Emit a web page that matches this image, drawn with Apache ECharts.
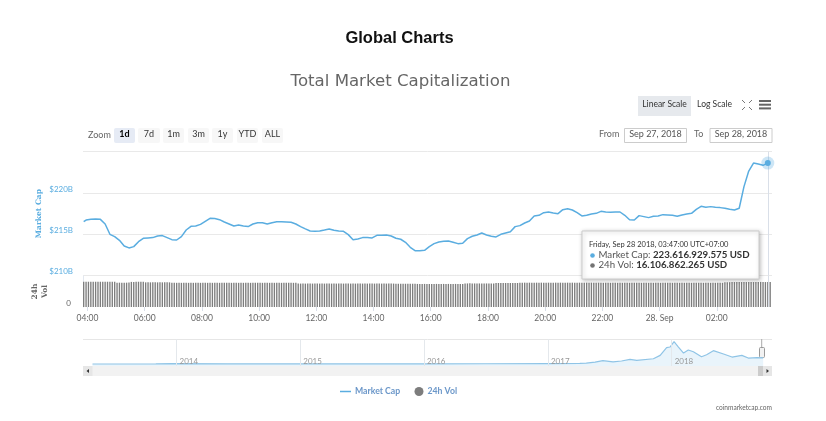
<!DOCTYPE html>
<html><head><meta charset="utf-8">
<script src="https://cdn.jsdelivr.net/npm/echarts@6/dist/echarts.min.js"></script>
<style>html,body{margin:0;padding:0;background:#fff}#c{width:826px;height:421px}</style>
</head><body><div id="c"></div>
<script>
// Market cap in $B: first reading 03:52, then every 10 minutes from 03:57 to Sep 28 03:47
const marketCap = [216.53,
216.73,216.81,216.85,216.81,216.25,215.0,214.72,214.27,213.59,213.35,213.51,214.11,
214.52,214.56,214.6,214.8,214.84,214.6,214.35,214.31,214.72,215.52,215.97,216.0,
216.2,216.57,216.94,216.9,216.77,216.49,216.25,216.0,216.13,216.0,215.93,216.25,
216.41,216.41,216.25,216.41,216.53,216.53,216.49,216.45,216.25,215.93,215.65,215.4,
215.36,215.4,215.52,215.65,215.48,215.4,215.36,214.96,214.35,214.44,214.6,214.6,
214.56,214.88,214.88,214.92,214.8,214.52,214.4,214.03,213.43,213.02,213.02,213.06,
213.51,213.87,214.07,214.15,214.19,214.03,213.87,213.91,214.48,214.76,214.92,215.16,
214.92,214.76,214.68,215.0,215.16,215.32,215.93,216.05,216.37,216.61,217.22,217.3,
217.62,217.7,217.58,217.5,217.98,218.1,217.94,217.62,217.22,217.3,217.46,217.54,
217.78,217.7,217.66,217.7,217.7,217.3,216.77,216.73,217.26,217.14,217.02,217.18,
217.22,217.38,217.34,217.3,217.18,217.34,217.46,217.54,218.02,218.39,218.27,218.35,
218.27,218.23,218.15,218.02,217.94,218.15,220.77,222.66,223.63,223.51,223.35,223.616929575];
// 24h volume in $B, one bar every 5 minutes from 03:52
const volume = [
16.3,16.3,16.3,16.3,16.3,16.3,16.3,16.3,16.3,16.3,16.3,
16.3,16.3,16.3,15.7,15.7,15.7,15.7,15.7,15.8,16.2,16.2,16.3,
16.3,16.3,16.3,15.9,15.9,15.9,15.9,15.9,15.9,15.9,15.9,15.9,
15.9,15.9,15.6,15.6,15.6,15.6,15.6,15.6,15.6,15.6,15.6,15.6,
15.6,15.6,15.6,15.6,15.6,15.6,15.6,15.6,15.6,15.6,15.6,15.6,
15.6,15.6,15.6,15.6,15.6,15.6,15.6,15.6,15.6,15.6,15.6,15.6,
15.6,15.6,15.6,15.6,15.6,15.6,15.6,15.6,15.6,15.6,15.6,15.6,
15.6,15.6,15.6,15.6,15.6,15.6,15.6,15.1,15.1,15.1,15.1,15.1,
15.1,15.1,15.1,15.1,15.1,15.1,15.1,15.1,15.1,15.1,15.1,15.1,
15.1,15.1,15.1,15.1,15.1,15.1,15.1,15.1,15.1,15.1,15.1,15.1,
15.1,15.1,15.1,15.1,15.1,15.1,15.1,15.1,15.1,15.1,15.1,15.1,
15.0,15.0,15.0,15.0,15.0,15.0,15.0,15.0,15.0,14.9,14.9,14.9,
14.9,14.9,14.9,14.9,14.9,14.9,14.9,14.9,14.9,14.9,14.9,14.9,
14.9,14.9,14.9,14.9,14.9,15.2,15.2,15.3,15.2,15.2,15.2,15.2,
15.2,15.2,15.2,15.2,15.2,15.2,15.5,15.5,15.5,15.5,15.5,15.5,
15.5,15.5,15.5,15.5,15.7,15.7,15.7,15.7,15.7,15.7,15.7,15.7,
15.7,15.7,15.7,15.7,15.7,15.7,15.7,15.7,15.7,15.7,15.7,15.7,
15.7,15.7,15.7,15.7,15.7,15.7,15.7,15.7,15.7,15.7,15.7,15.7,
15.7,15.7,15.7,15.6,15.6,15.6,15.6,15.6,15.6,15.6,15.6,15.6,
15.6,15.6,15.6,15.6,15.6,15.6,15.6,15.6,15.6,15.6,15.6,15.6,
15.6,15.6,15.6,15.6,15.6,15.6,15.6,15.6,15.6,15.6,15.6,15.6,
15.6,15.6,15.6,15.6,15.6,15.6,15.6,15.6,15.6,15.6,15.6,15.6,
15.6,15.6,15.6,15.6,15.6,15.6,15.9,15.9,16.0,16.1,16.1,16.1,
16.1,16.1,16.1,16.1,16.2,16.2,16.1,16.1,16.1,16.2,16.1,16.1,
16.106862265,16.1];
// Navigator overview: date, market cap in $B
const overviewDates = ['2013-04-28','2013-11-01','2013-12-20','2014-06-01','2015-01-15','2016-01-01','2016-07-01','2017-01-01','2017-04-05','2017-04-24','2017-05-20','2017-06-12','2017-07-12','2017-08-06','2017-08-31','2017-09-20','2017-11-08','2017-11-28','2017-12-17','2017-12-27','2018-01-08','2018-01-21','2018-02-05','2018-02-19','2018-03-06','2018-03-30','2018-04-14','2018-05-04','2018-06-03','2018-06-28','2018-07-27','2018-08-15','2018-09-10','2018-09-28'];
const overviewValues = [1.5,5,14,8,5,7,10,17,25,30,72,120,78,110,170,132,190,312,590,612,804,612,396,504,440,264,336,480,360,252,312,216,230,223.6];
const rangeButtons = ['1d','7d','1m','3m','1y','YTD','ALL'];
const yTicks = [210,215,220,225];
const overviewYears = [2014,2015,2016,2017,2018];
const lastLabel = 'Friday, Sep 28 2018, 03:47:00 UTC+07:00';
const capLabel = '223.616.929.575 USD';
const volLabel = '16.106.862.265 USD';

const FONT = 'Lato';
const BLUE = '#5aade0', GRID = '#e9e9e9';
const MIN = 60000;
const start = new Date(2018,8,27,3,52).getTime();
const end = new Date(2018,8,28,3,47).getTime();
const capData = marketCap.map((v,i)=>[i===0?start:start+5*MIN+(i-1)*10*MIN,v]);
const volData = volume.map((v,i)=>[start+i*5*MIN,v]);
const navData = overviewDates.map((d,i)=>{const p=d.split('-');return [new Date(+p[0],p[1]-1,+p[2]).getTime(),overviewValues[i]];});
const xMin = new Date(2018,8,27,3,50,34).getTime(), xMax = new Date(2018,8,28,3,55,48).getTime();
const hourTicks = [];
for(let h=4;h<=26;h+=2) hourTicks.push(new Date(2018,8,27,h).getTime());
const yearTicks = overviewYears.map(y=>new Date(y,0,1).getTime());
const hourFmt = v=>{const d=new Date(v);if(d.getHours()===0)return '28. Sep';return String(d.getHours()).padStart(2,'0')+':00';};

function R(x,y,w,h,fill,extra){return Object.assign({type:'rect',silent:true,shape:{x,y,width:w,height:h},style:{fill}},extra||{});}
function T(x,y,text,o){return {type:'text',silent:true,x,y,z:o&&o.z||5,style:{text,fontFamily:o&&o.ff||FONT,fontSize:o&&o.s||9,fontWeight:o&&o.w||'normal',fill:o&&o.c||'#555',align:o&&o.a||'left',verticalAlign:'middle'}};}
function L(x1,y1,x2,y2,c,w){return {type:'line',silent:true,shape:{x1,y1,x2,y2},style:{stroke:c,lineWidth:w||1}};}
function P(pts,c){return {type:'polygon',silent:true,shape:{points:pts},style:{fill:c}};}

const btnBoxes=[[114,21],[138,22],[163,21],[188,21],[212,21],[237,21],[262,21]];
const g=[];
g.push(T(88,135,'Zoom',{c:'#666',s:9}));
rangeButtons.forEach((b,i)=>{
  const [x,w]=btnBoxes[i];
  g.push(R(x,128,w,15,i===0?'#e6ebf5':'#f7f7f7',{shape:{x,y:128,width:w,height:15,r:2}}));
  g.push(T(x+w/2,134.5,b,{a:'center',c:i===0?'#000':'#333',w:i===0?'bold':'normal',s:9}));
});
g.push(R(638,96,53,20,'#e6e9ed'));
g.push(T(664.5,104,'Linear Scale',{a:'center',c:'#333',s:8.5}));
g.push(T(714.5,104,'Log Scale',{a:'center',c:'#333',s:8.5}));
[[742,100,1,1],[752,100,-1,1],[742,110,1,-1],[752,110,-1,-1]].forEach(a=>{
  g.push(L(a[0],a[1],a[0]+a[2]*3,a[1]+a[3]*3,'#777',1));
});
g.push(R(759,100,12,2,'#666'),R(759,103.7,12,2,'#666'),R(759,107.4,12,2,'#666'));
g.push(T(599,134.5,'From',{c:'#666',s:9}));
g.push(R(624.5,128.5,62,14,'#fff',{style:{fill:'#fff',stroke:'#ccc',lineWidth:1}}));
g.push(T(655.5,134.5,'Sep 27, 2018',{a:'center',c:'#555',s:9}));
g.push(T(694,134.5,'To',{c:'#666',s:9}));
g.push(R(710,128.5,62,14,'#fff',{style:{fill:'#fff',stroke:'#ccc',lineWidth:1}}));
g.push(T(741,134.5,'Sep 28, 2018',{a:'center',c:'#555',s:9}));
// scrollbar and navigator handle
g.push(L(83,339.5,772,339.5,'#e6e6e6',1));
g.push(R(83,366,689,10,'#f2f2f2'));
g.push(R(83,366,9.5,10,'#e6e6e6'));
g.push(P([[89,369],[89,373],[86.5,371]],'#333'));
g.push(R(758,366,5,10,'#cccccc'));
g.push(R(763,366,9,10,'#e6e6e6'));
g.push(P([[766.5,369],[766.5,373],[769,371]],'#333'));
g.push(L(761.7,339,761.7,366,'#aaa',1));
g.push(R(759.5,347.5,5,10,'#f2f2f2',{style:{fill:'#f2f2f2',stroke:'#999',lineWidth:1},shape:{x:759.5,y:347.5,width:5,height:10,r:1}}));
g.push(T(772,408,'coinmarketcap.com',{a:'right',c:'#666',s:6.6}));
// tooltip
g.push({type:'rect',silent:true,z:10,shape:{x:582,y:231,width:177,height:48},style:{fill:'#fff',stroke:'#ccc',lineWidth:1,shadowBlur:4,shadowColor:'rgba(0,0,0,0.25)',shadowOffsetX:1,shadowOffsetY:1}});
g.push(T(589,244.5,lastLabel,{c:'#333',s:7.5,z:11}));
g.push({type:'circle',silent:true,z:11,shape:{cx:592.5,cy:255.5,r:2.3},style:{fill:BLUE}});
g.push({type:'text',silent:true,z:11,x:598.5,y:255,style:{rich:{a:{fontFamily:FONT,fontSize:9.7,fill:'#555'},b:{fontFamily:FONT,fontSize:9.7,fontWeight:'bold',fill:'#333'}},text:'{a|Market Cap: }{b|'+capLabel+'}',verticalAlign:'middle'}});
g.push({type:'circle',silent:true,z:11,shape:{cx:592.5,cy:265.5,r:2.3},style:{fill:'#737373'}});
g.push({type:'text',silent:true,z:11,x:598.5,y:265,style:{rich:{a:{fontFamily:FONT,fontSize:9.7,fill:'#555'},b:{fontFamily:FONT,fontSize:9.7,fontWeight:'bold',fill:'#333'}},text:'{a|24h Vol: }{b|'+volLabel+'}',verticalAlign:'middle'}});

const option={
  animation:false,
  backgroundColor:'#fff',
  title:[
    {text:'Global Charts',left:394.5,top:33,textAlign:'center',textVerticalAlign:'middle',textStyle:{fontFamily:'Liberation Sans',fontSize:16.5,fontWeight:'bold',color:'#111'}},
    {text:'Total Market Capitalization',left:395.5,top:77,textAlign:'center',textVerticalAlign:'middle',textStyle:{fontFamily:'DejaVu Sans',fontSize:16.6,fontWeight:'normal',color:'#666'}}
  ],
  legend:[
    {data:['Market Cap'],left:335,top:382,icon:'rect',itemWidth:11,itemHeight:1.5,itemGap:0,textStyle:{fontFamily:FONT,fontSize:8.7,fontWeight:'bold',color:'#6b97c9',padding:[0,0,0,-1]}},
    {data:['24h Vol'],left:409.5,top:382,icon:'circle',itemWidth:9,itemHeight:9,textStyle:{fontFamily:FONT,fontSize:8.7,fontWeight:'bold',color:'#6b97c9',padding:[0,0,0,-1]}}
  ],
  grid:[
    {left:83,width:689,top:151.7,height:123.9},
    {left:83,width:689,top:276,height:31},
    {left:83,width:689,top:339,height:27}
  ],
  xAxis:[
    {type:'value',scale:true,gridIndex:0,min:xMin,max:xMax,axisLine:{show:false},axisTick:{show:false},axisLabel:{show:false},splitLine:{show:false}},
    {type:'value',scale:true,gridIndex:1,min:xMin,max:xMax,
      axisLine:{show:false},axisTick:{show:true,length:4,customValues:hourTicks,lineStyle:{color:'#d8dee9'}},splitLine:{show:false},
      axisLabel:{show:true,customValues:hourTicks,formatter:hourFmt,fontFamily:FONT,fontSize:8.5,color:'#666',margin:7,hideOverlap:false}},
    {type:'value',scale:true,gridIndex:2,z:5,min:new Date(2013,2,31).getTime(),max:new Date(2018,9,24).getTime(),
      axisLine:{show:false},axisTick:{show:false,customValues:yearTicks},splitLine:{show:true,lineStyle:{color:'#e4e8ec'}},
      axisLabel:{show:true,customValues:yearTicks,inside:true,align:'left',margin:1,padding:[0,0,0,3],formatter:v=>String(new Date(v).getFullYear()),fontFamily:FONT,fontSize:8,color:'#999'}}
  ],
  yAxis:[
    {type:'value',gridIndex:0,min:210,max:225,interval:5,name:'Market Cap',nameLocation:'middle',nameRotate:90,nameGap:40,nameMoveOverlap:false,
      nameTextStyle:{fontFamily:'DejaVu Serif',fontSize:7.5,fontWeight:'bold',color:BLUE},
      axisLine:{show:false},axisTick:{show:false},splitLine:{lineStyle:{color:GRID}},
      axisLabel:{formatter:v=>v===yTicks[3]?'':'$'+v+'B',fontFamily:FONT,fontSize:8,color:BLUE,margin:10,verticalAlign:'bottom',lineHeight:8}},
    {type:'value',gridIndex:1,min:0,max:20,interval:20,name:'24h\nVol',nameLocation:'middle',nameRotate:90,nameGap:33,nameMoveOverlap:false,
      nameTextStyle:{fontFamily:'DejaVu Serif',fontSize:7.5,fontWeight:'bold',color:'#666',lineHeight:10},
      axisLine:{show:true,lineStyle:{color:'#e3e8f0'}},axisTick:{show:false},splitLine:{show:false},
      axisLabel:{formatter:v=>v===0?'0':'',fontFamily:FONT,fontSize:8,color:'#666',margin:12,verticalAlign:'bottom'}},
    {type:'value',gridIndex:2,min:-70,max:900,show:false,splitLine:{show:false}}
  ],
  series:[
    {name:'Market Cap',type:'line',xAxisIndex:0,yAxisIndex:0,data:capData,showSymbol:false,z:4,
      lineStyle:{color:BLUE,width:1.5},itemStyle:{color:BLUE},
      markLine:{silent:true,symbol:'none',label:{show:false},lineStyle:{color:'#d9dfe8',width:1,type:'solid'},data:[{xAxis:end}]},
      markPoint:{silent:true,animation:false,label:{show:false},data:[
        {coord:capData[capData.length-1],symbol:'circle',symbolSize:13,itemStyle:{color:'rgba(90,173,224,0.3)'}},
        {coord:capData[capData.length-1],symbol:'circle',symbolSize:6,itemStyle:{color:BLUE}}]}},
    {name:'24h Vol',type:'bar',xAxisIndex:1,yAxisIndex:1,data:volData,barWidth:1.35,itemStyle:{color:'#7d7d7d'},
      markLine:{silent:true,symbol:'none',label:{show:false},lineStyle:{color:'#d9dfe8',width:1,type:'solid'},data:[{xAxis:end}]}},
    {name:'overview',type:'line',xAxisIndex:2,yAxisIndex:2,data:navData,showSymbol:false,
      lineStyle:{color:'#8fc4e6',width:1.2},areaStyle:{color:'#e9f4fb',opacity:1,origin:'start'}}
  ],
  graphic:g
};
const chart=echarts.init(document.getElementById('c'),null,{renderer:'canvas'});
chart.setOption(option);
</script></body></html>
